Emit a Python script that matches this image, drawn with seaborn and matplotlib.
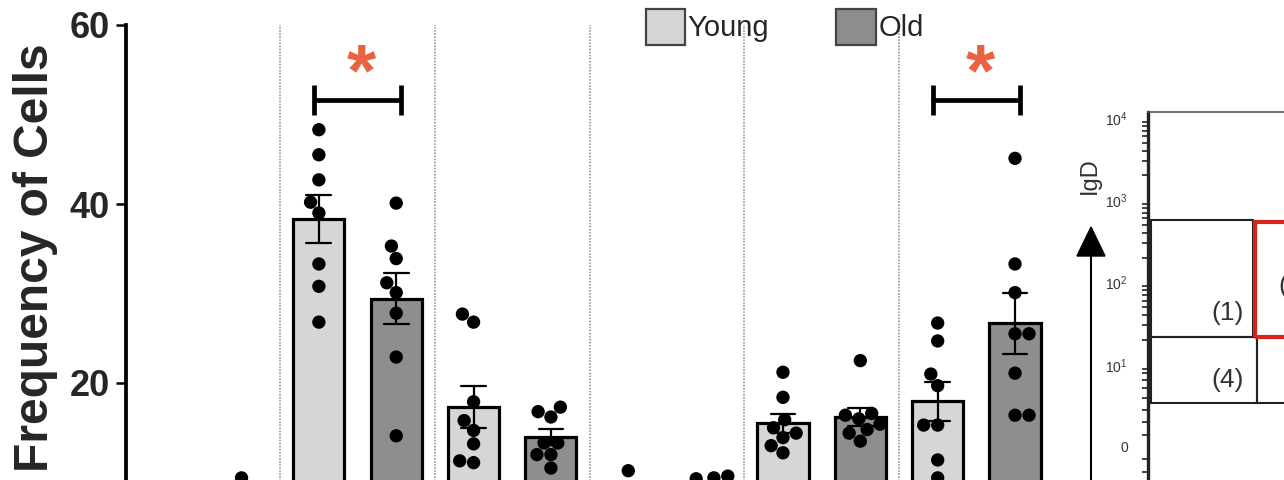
import numpy as np
import pandas as pd
import matplotlib
matplotlib.use("Agg")
import matplotlib.pyplot as plt
import seaborn as sns
from matplotlib.patches import Patch, Rectangle, Polygon
from matplotlib.lines import Line2D

# ---------------------------------------------------------------- data
subsets = ["S1", "S2", "S3", "S4", "S5", "S6"]
ages = ["Young", "Old"]

young_s1 = [7.4, 6.6, 5.9, 5.1, 4.6, 3.9, 3.2, 2.5]
old_s1 = [9.4, 7.8, 6.9, 6.0, 5.3, 4.4, 3.6, 2.8]
young_s2 = [48.3, 45.5, 42.7, 40.2, 39.0, 33.3, 30.8, 26.8]
old_s2 = [40.1, 35.3, 33.9, 31.2, 30.1, 27.8, 22.9, 14.1]
young_s3 = [27.7, 26.8, 17.9, 15.8, 14.7, 13.2, 11.3, 11.1]
old_s3 = [17.3, 16.8, 16.2, 13.3, 13.3, 12.0, 12.0, 10.5]
young_s4 = [10.2, 8.1, 7.0, 6.2, 5.4, 4.8, 3.9, 3.1]
old_s4 = [9.6, 9.4, 9.3, 8.2, 7.1, 6.3, 5.5, 4.6]
young_s5 = [21.2, 18.4, 15.9, 15.0, 14.4, 13.9, 13.0, 12.2]
old_s5 = [22.5, 16.6, 16.4, 16.0, 15.4, 14.8, 14.4, 13.5]
young_s6 = [26.7, 24.7, 21.0, 19.7, 15.3, 15.3, 11.4, 9.4]
old_s6 = [45.1, 33.3, 30.1, 25.5, 25.5, 21.1, 16.4, 16.4]

young_values = [young_s1, young_s2, young_s3, young_s4, young_s5, young_s6]
old_values = [old_s1, old_s2, old_s3, old_s4, old_s5, old_s6]

# pairs marked as significant (subset index) and their label
sig_subsets = [1, 5]
sig_label = "*"
sig_level = 51.6

y_ticks = [20, 40, 60]
inset_ticks = [0, 1, 2, 3, 4]
inset_ticklabels = ["0", "$10^1$", "$10^2$", "$10^3$", "$10^4$"]

# ---------------------------------------------------------------- style
young_c = "#d5d6d8"
old_c = "#8e8e8e"
star_c = "#ea6340"

sns.set_theme(style="white")
plt.rcParams["font.family"] = ["Liberation Sans", "DejaVu Sans"]
plt.rcParams["mathtext.fontset"] = "custom"
plt.rcParams["mathtext.rm"] = "Liberation Sans"

rows = []
for s, yv, ov in zip(subsets, young_values, old_values):
    for v in yv:
        rows.append({"slot": f"{s} Young", "age": "Young", "value": v})
    for v in ov:
        rows.append({"slot": f"{s} Old", "age": "Old", "value": v})
df = pd.DataFrame(rows)
slot_order = [f"{s} {a}" for s in subsets for a in ages]

W, H = 1284, 480
fig = plt.figure(figsize=(W / 100, H / 100), dpi=100)
fig.patch.set_facecolor("white")

# main axes: y from 0 (below the visible strip) up to 60
ax_left, ax_right = 125.5, 125.5 + 12 * 77.35
ax_top, ax_bot = 25, 562
ax = fig.add_axes([ax_left / W, 1 - ax_bot / H, (ax_right - ax_left) / W, (ax_bot - ax_top) / H])
ax.set_facecolor("none")

sns.barplot(data=df, x="slot", y="value", hue="age", order=slot_order, hue_order=ages,
            palette=[young_c, old_c], dodge=False, width=0.66, errorbar="se",
            capsize=0.32, err_kws={"color": "black", "linewidth": 1.6},
            edgecolor="black", linewidth=2.3, legend=False, ax=ax)
sns.swarmplot(data=df, x="slot", y="value", hue="age", order=slot_order, hue_order=ages,
              palette=["black", "black"], dodge=False, size=9.6, legend=False, ax=ax, zorder=4)

ax.set_xlim(-0.5, len(slot_order) - 0.5)
ax.set_ylim(0, 60)
ax.set_yticks(y_ticks)
ax.set_yticklabels([str(t) for t in y_ticks], fontsize=26, fontweight="bold")
ax.tick_params(axis="y", left=True, length=7.5, width=1.8, pad=3.5, color="black")
ax.tick_params(axis="x", bottom=False, labelbottom=False)
ax.set_xlabel("")
ax.set_ylabel("")
for side in ["top", "right", "bottom"]:
    ax.spines[side].set_visible(False)
ax.spines["left"].set_linewidth(2.7)
ax.spines["left"].set_color("black")

# dotted separators between subsets
for k in range(1, len(subsets)):
    ax.plot([2 * k - 0.5, 2 * k - 0.5], [0, 60], color="#8a8a8a", lw=1.1,
            linestyle=(0, (1, 1)), zorder=0.5)

# significance brackets
for k in sig_subsets:
    x0, x1 = 2 * k - 0.06, 2 * k + 1 + 0.06
    ax.plot([x0, x1], [sig_level, sig_level], color="black", lw=3.4, solid_capstyle="butt", zorder=5)
    for xe in (x0, x1):
        ax.plot([xe, xe], [sig_level - 1.7, sig_level + 1.7], color="black", lw=3.4,
                solid_capstyle="butt", zorder=5)
    ax.text(2 * k + 0.55, 54.3, sig_label, color=star_c, fontsize=54, fontweight="bold",
            ha="center", va="center", zorder=5)

fig.text(36 / W, 1 - 258 / H, "Frequency of Cells", rotation=90, fontsize=34.5,
         fontweight="bold", ha="center", va="center")

handles = [Patch(facecolor=young_c, edgecolor="#444444", linewidth=1.6),
           Patch(facecolor=old_c, edgecolor="#444444", linewidth=1.6)]
fig.legend(handles, ages, ncol=2, frameon=False, fontsize=21, handlelength=1.35,
           handleheight=1.5, handletextpad=0.08, columnspacing=2.3, loc="upper left",
           bbox_to_anchor=(646 / W, 1 - 9 / H), borderpad=0, borderaxespad=0)

# ---------------------------------------------------------------- inset gating plot
dec = 82.3
in_left, in_top, in_bot, in_right = 1148, 112, 521, 1308
axi = fig.add_axes([in_left / W, 1 - in_bot / H, (in_right - in_left) / W, (in_bot - in_top) / H])
axi.set_facecolor("white")
axi.set_ylim((447 - in_bot) / dec, (447 - in_top) / dec)
axi.set_xlim(0, (in_right - in_left) / dec)
axi.set_xticks([])
axi.set_yticks(inset_ticks)
axi.set_yticklabels(inset_ticklabels, fontsize=10, color="#333333")
minor = [0.15, 0.3, 0.45, 0.6, 0.72, 0.82, 0.9, 0.95, -0.15, -0.3, -0.45, -0.6, -0.75]
for d in (1, 2, 3):
    minor += [d + np.log10(m) for m in range(2, 10)]
axi.set_yticks(minor, minor=True)
axi.tick_params(axis="y", which="major", length=8.5, width=1.4, pad=6, color="#222222")
axi.tick_params(axis="y", which="minor", length=4.5, width=1.2, color="#222222", left=True)
axi.spines["left"].set_linewidth(2.4)
axi.spines["left"].set_color("#222222")
axi.spines["top"].set_linewidth(1.2)
axi.spines["top"].set_color("#555555")
axi.spines["right"].set_visible(False)
axi.spines["bottom"].set_visible(False)


def px_x(px):
    return (px - in_left) / dec


def px_y(py):
    return (447 - py) / dec


gate_kw = dict(fill=False, edgecolor="#222222", linewidth=1.5)
axi.add_patch(Rectangle((px_x(1151), px_y(337)), px_x(1253) - px_x(1151), px_y(220) - px_y(337), **gate_kw))
axi.add_patch(Rectangle((px_x(1151), px_y(403)), px_x(1257) - px_x(1151), px_y(337) - px_y(403), **gate_kw))
axi.add_patch(Rectangle((px_x(1257), px_y(403)), px_x(1400) - px_x(1257), px_y(337) - px_y(403), **gate_kw))
axi.add_patch(Rectangle((px_x(1255), px_y(337)), px_x(1400) - px_x(1255), px_y(222) - px_y(337),
                        fill=False, edgecolor="#d8231b", linewidth=3.0))
axi.text(px_x(1228), px_y(313), "(1)", fontsize=19, color="#333333", ha="center", va="center")
axi.text(px_x(1228), px_y(380), "(4)", fontsize=19, color="#333333", ha="center", va="center")
axi.text(px_x(1278), px_y(286), "(2)", fontsize=19, color="#333333", ha="left", va="center")

# IgD axis arrow beside the inset
ov = fig.add_axes([0, 0, 1, 1])
ov.set_xlim(0, W)
ov.set_ylim(H, 0)
ov.axis("off")
ov.patch.set_alpha(0)
ov.add_line(Line2D([1091, 1091], [H + 10, 252], color="black", lw=1.5))
ov.add_patch(Polygon([[1077, 256], [1105, 256], [1091, 227]], closed=True, color="black"))
ov.text(1090, 176, "IgD", rotation=90, fontsize=17, color="#333333", ha="center", va="center")

fig.savefig("out.png", dpi=100)
